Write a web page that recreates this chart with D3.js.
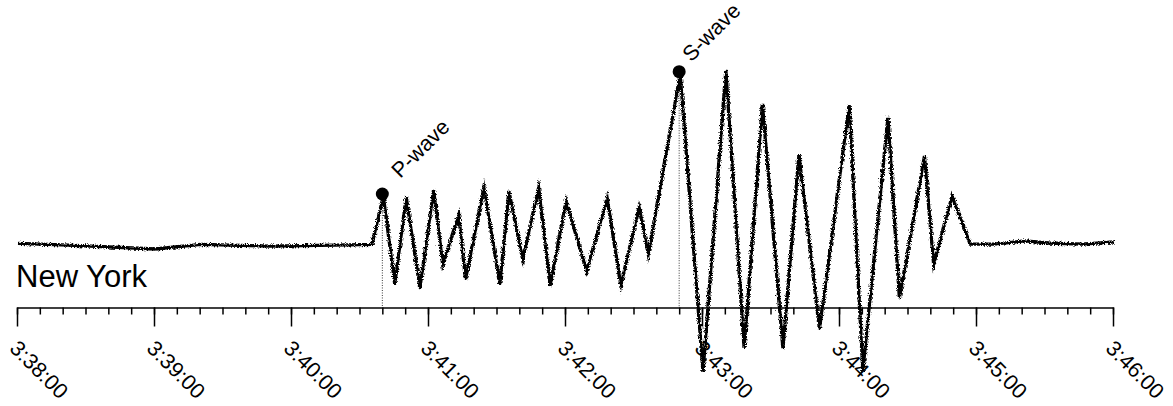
<!DOCTYPE html>
<html>
<head>
<meta charset="utf-8">
<script src="https://cdn.jsdelivr.net/npm/d3@7"></script>
<style>
  html, body { margin: 0; padding: 0; background: #fff; }
  svg { display: block; }
  text { font-family: "Liberation Sans", Arial, Helvetica, sans-serif; fill: #000; }
</style>
</head>
<body>
<svg id="chart" width="1173" height="406"></svg>
<script>
// ---- data ----
const station = "New York";
const times = [
  "3:38:00","3:38:22","3:39:00","3:39:20","3:39:50","3:40:19","3:40:35",
  "3:40:40","3:40:45","3:40:50","3:40:56","3:41:02","3:41:06","3:41:13",
  "3:41:16","3:41:24","3:41:31","3:41:35","3:41:41","3:41:48","3:41:53",
  "3:42:00","3:42:09","3:42:18","3:42:24","3:42:32","3:42:36","3:42:50",
  "3:43:00","3:43:10","3:43:18","3:43:26","3:43:35","3:43:42","3:43:51",
  "3:44:04","3:44:10","3:44:21","3:44:26","3:44:37","3:44:41","3:44:49",
  "3:44:57","3:45:07","3:45:21","3:45:31","3:45:46","3:46:00"
];
const amplitudes = [
  -0.2, -1.2, -3.5, -0.8, -1.8, -1.3, -0.8,
  27.5, -24.0, 26.9, -26.3, 31.0, -12.3, 16.4,
  -21.1, 32.7, -24.0, 30.4, -9.4, 32.2, -25.1,
  24.6, -16.4, 26.3, -24.6, 21.1, -6.4, 99.0,
  -75.4, 101.2, -61.4, 81.3, -61.4, 52.0, -50.3,
  80.7, -74.9, 73.7, -32.2, 50.9, -12.3, 27.5,
  -0.6, -0.6, 1.2, 0.0, -0.6, 0.6
];
const eventNames = ["P-wave", "S-wave"];
const eventTimes = ["3:40:40", "3:42:50"];
const axisStart = "3:38:00";
const axisEnd = "3:46:00";
const amplitudeDomain = [-100, 100];

// ---- drawing ----
const parse = d3.timeParse("%H:%M:%S");
const fmt = d3.timeFormat("%-H:%M:%S");
const series = times.map((t, i) => ({ t: parse(t), a: amplitudes[i] }));
const valueAt = t => { const d = series.find(s => +s.t === +t); return d ? d.a : 0; };
const events = eventNames.map((n, i) => {
  const t = parse(eventTimes[i]);
  return { name: n, t: t, a: valueAt(t) };
});

const svg = d3.select("#chart");
const axisY = 307.5;
const x = d3.scaleTime().domain([parse(axisStart), parse(axisEnd)]).range([17, 1113]);
const y = d3.scaleLinear().domain(amplitudeDomain).range([413, 71]);

// filter to give the trace its rough, scanned look
const defs = svg.append("defs");
const f = defs.append("filter").attr("id", "rough")
  .attr("filterUnits", "userSpaceOnUse")
  .attr("x", 0).attr("y", 0).attr("width", 1173).attr("height", 406);
f.append("feTurbulence").attr("type", "turbulence").attr("baseFrequency", 1.6)
  .attr("numOctaves", 1).attr("seed", 7).attr("result", "noise");
f.append("feDisplacementMap").attr("in", "SourceGraphic").attr("in2", "noise")
  .attr("scale", 3.5).attr("xChannelSelector", "R").attr("yChannelSelector", "G");

// minor ticks (every 10 s)
const minorAxis = d3.axisBottom(x)
  .ticks(d3.timeSecond.every(10))
  .tickSize(7).tickSizeOuter(0).tickFormat("");
const gMinor = svg.append("g").attr("transform", `translate(0,${axisY})`).call(minorAxis);
gMinor.select(".domain").remove();

// major ticks (every minute)
const majorAxis = d3.axisBottom(x)
  .ticks(d3.timeMinute.every(1))
  .tickSize(19).tickSizeOuter(0).tickFormat(fmt);
const gMajor = svg.append("g").attr("transform", `translate(0,${axisY})`).call(majorAxis);
svg.selectAll(".tick line").attr("stroke", "#000").attr("stroke-width", 1.5);
gMajor.select(".domain").attr("stroke", "#000").attr("stroke-width", 1.5);
gMajor.selectAll(".tick text")
  .attr("x", 0).attr("y", 0).attr("dy", 0)
  .attr("transform", "translate(-9,42) rotate(45)")
  .style("text-anchor", "start")
  .style("font-size", "21.5px")
  .style("font-family", '"Liberation Sans", Arial, sans-serif')
  .attr("fill", "#000");

// station label
svg.append("text").attr("x", 16).attr("y", 287)
  .style("font-size", "31px").text(station);

// dotted markers from event dots down to the axis
svg.selectAll(".marker").data(events).join("line")
  .attr("class", "marker")
  .attr("x1", d => x(d.t)).attr("x2", d => x(d.t))
  .attr("y1", d => y(d.a)).attr("y2", axisY)
  .attr("stroke", "#000").attr("stroke-width", 0.8)
  .attr("stroke-dasharray", "1,1.5");

// the trace
const line = d3.line().x(d => x(d.t)).y(d => y(d.a));
svg.append("path").datum(series)
  .attr("d", line)
  .attr("fill", "none")
  .attr("stroke", "#000")
  .attr("stroke-width", 3.3)
  .attr("stroke-linejoin", "miter")
  .attr("stroke-miterlimit", 6)
  .attr("filter", "url(#rough)");

// event dots and labels
svg.selectAll(".dot").data(events).join("circle")
  .attr("class", "dot")
  .attr("cx", d => x(d.t)).attr("cy", d => y(d.a) - 1)
  .attr("r", 6.5).attr("fill", "#000");

const labelOffsets = [[18, -16], [12, -10]];
svg.selectAll(".evlabel").data(events).join("text")
  .attr("class", "evlabel")
  .attr("transform", (d, i) => `translate(${x(d.t) + labelOffsets[i][0]},${y(d.a) + labelOffsets[i][1]}) rotate(-45)`)
  .style("font-size", "21.5px")
  .text(d => d.name);
</script>
</body>
</html>
